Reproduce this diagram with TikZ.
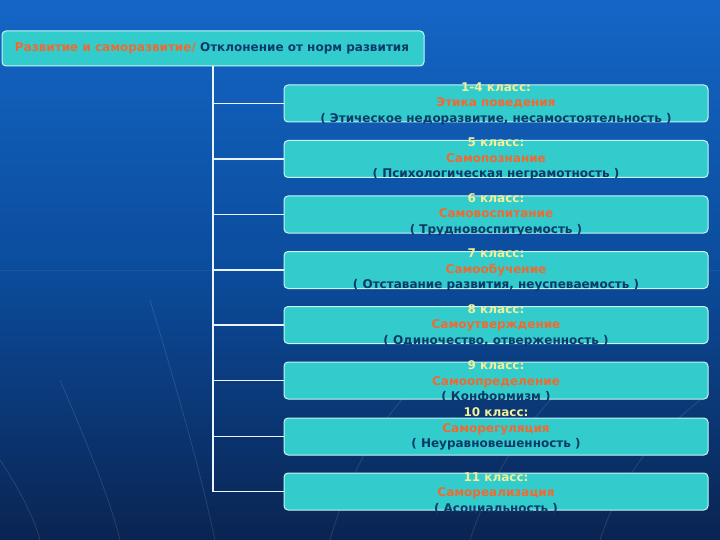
\documentclass[tikz,border=0pt]{standalone}
\usepackage{fontspec}
\setmainfont{DejaVu Sans}
\usetikzlibrary{calc}
\definecolor{bgtop}{HTML}{1466C6}
\definecolor{bgmid}{HTML}{0B4C9C}
\definecolor{bgbot}{HTML}{0A2452}
\definecolor{boxfill}{HTML}{33CCCC}
\definecolor{boxline}{HTML}{C8F4F4}
\definecolor{ylw}{HTML}{F2EE9A}
\definecolor{org}{HTML}{F06A30}
\definecolor{dkb}{HTML}{0B3A6A}
\definecolor{conn}{HTML}{E8F4FF}
\tikzset{
  stagebox/.style={draw=boxline, line width=1pt, fill=boxfill, rounded corners=4pt,
    minimum width=424pt, minimum height=37pt, inner sep=0pt},
  stagetext/.style={align=center, inner sep=0pt, font=\bfseries\fontsize{12}{15.5}\selectfont},
  link/.style={draw=conn, line width=1.6pt},
  streak/.style={draw=white, opacity=0.12, line width=0.8pt}
}
\begin{document}
\begin{tikzpicture}[x=1pt,y=1pt]
\useasboundingbox (0,0) rectangle (720,-540);
\shade[top color=bgtop, bottom color=bgbot, middle color=bgmid] (0,0) rectangle (720,-540);
% faint streaks
\draw[streak] (150,-300) .. controls (180,-400) and (200,-470) .. (215,-540);
\draw[streak] (60,-380) .. controls (90,-450) and (110,-500) .. (120,-540);
\draw[streak] (330,-540) .. controls (350,-470) and (380,-420) .. (420,-380);
\draw[streak] (470,-540) .. controls (490,-480) and (520,-430) .. (560,-390);
\draw[streak] (600,-540) .. controls (620,-480) and (650,-440) .. (700,-400);
\draw[streak] (0,-460) .. controls (20,-490) and (35,-520) .. (40,-540);
\draw[streak, opacity=0.06] (0,-270) -- (720,-270);

% top box
\node[stagebox, minimum width=422pt, minimum height=35pt] (top) at (213,-48.5) {};
\node[inner sep=0pt, font=\bfseries\fontsize{12}{14}\selectfont] (toptext) at (212,-48)
  {\textcolor{org}{Развитие и саморазвитие/} \textcolor{dkb}{Отклонение от норм развития}};

% stage boxes
\node[stagebox] (b1) at (496,-103.5) {};
\node[stagebox] (b2) at (496,-159) {};
\node[stagebox] (b3) at (496,-214.5) {};
\node[stagebox] (b4) at (496,-270) {};
\node[stagebox] (b5) at (496,-325) {};
\node[stagebox] (b6) at (496,-380.5) {};
\node[stagebox] (b7) at (496,-436.5) {};
\node[stagebox] (b8) at (496,-491.5) {};

\node[stagetext] (t1) at (496,-103.5) {\textcolor{ylw}{1-4 класс:}\\\textcolor{org}{Этика поведения}\\\textcolor{dkb}{( Этическое недоразвитие, несамостоятельность )}};
\node[stagetext] (t2) at (496,-159) {\textcolor{ylw}{5 класс:}\\\textcolor{org}{Самопознание}\\\textcolor{dkb}{( Психологическая неграмотность )}};
\node[stagetext] (t3) at (496,-214.5) {\textcolor{ylw}{6 класс:}\\\textcolor{org}{Самовоспитание}\\\textcolor{dkb}{( Трудновоспитуемость )}};
\node[stagetext] (t4) at (496,-270) {\textcolor{ylw}{7 класс:}\\\textcolor{org}{Самообучение}\\\textcolor{dkb}{( Отставание развития, неуспеваемость )}};
\node[stagetext] (t5) at (496,-325.5) {\textcolor{ylw}{8 класс:}\\\textcolor{org}{Самоутверждение}\\\textcolor{dkb}{( Одиночество, отверженность )}};
\node[stagetext] (t6) at (496,-382) {\textcolor{ylw}{9 класс:}\\\textcolor{org}{Самоопределение}\\\textcolor{dkb}{( Конформизм )}};
\node[stagetext] (t7) at (496,-429) {\textcolor{ylw}{10 класс:}\\\textcolor{org}{Саморегуляция}\\\textcolor{dkb}{( Неуравновешенность )}};
\node[stagetext] (t8) at (496,-493) {\textcolor{ylw}{11 класс:}\\\textcolor{org}{Самореализация}\\\textcolor{dkb}{( Асоциальность )}};

% connectors
\draw[link] (top.south) |- (b8.west);
\foreach \i in {1,...,7} {
  \draw[link] (top.south |- b\i.west) -- (b\i.west);
}
\end{tikzpicture}
\end{document}
